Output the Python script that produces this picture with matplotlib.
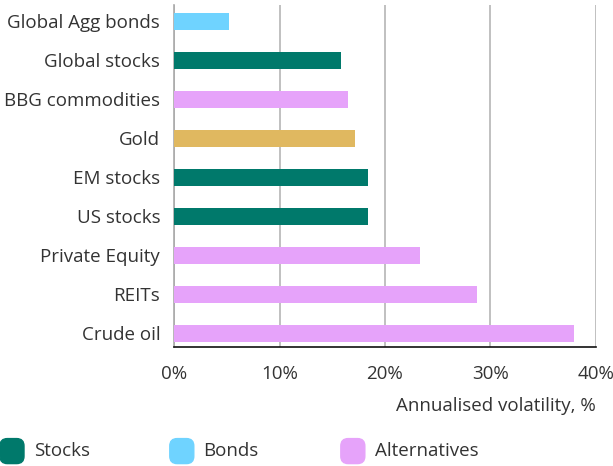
import matplotlib.pyplot as plt
from matplotlib.patches import FancyBboxPatch

plt.rcParams['font.family'] = ['Open Sans', 'DejaVu Sans']

# Data
assets = ['Global Agg bonds', 'Global stocks', 'BBG commodities', 'Gold', 'EM stocks',
          'US stocks', 'Private Equity', 'REITs', 'Crude oil']
volatility = [5.2, 15.8, 16.5, 17.2, 18.4, 18.4, 23.3, 28.7, 37.9]
groups = ['Bonds', 'Stocks', 'Alternatives', 'Gold', 'Stocks',
          'Stocks', 'Alternatives', 'Alternatives', 'Alternatives']

colors = {'Stocks': '#00796b', 'Bonds': '#6fd3ff', 'Alternatives': '#e6a3fa', 'Gold': '#e0b860'}
text_col = '#333333'
fs = 13.5

fig = plt.figure(figsize=(6.13, 4.66), dpi=100)
ax = fig.add_axes([0.284, 0.255, 0.688, 0.734])

y = list(range(len(assets)))
ax.barh(y, volatility, height=0.44, color=[colors[g] for g in groups], zorder=3)

ax.set_xlim(0, 40)
ax.set_ylim(8.36, -0.41)
ax.set_yticks(y)
ax.set_yticklabels(assets, fontsize=fs, color=text_col)
ax.set_xticks([0, 10, 20, 30, 40])
ax.set_xticklabels(['0%', '10%', '20%', '30%', '40%'], fontsize=fs, color=text_col)
ax.tick_params(axis='y', length=0, pad=10)
ax.tick_params(axis='x', length=0, pad=13)
ax.grid(axis='x', color='#b5b5b5', linewidth=1.2, zorder=0)
for s in ['top', 'right']:
    ax.spines[s].set_visible(False)
ax.spines['left'].set_color('#aaaaaa')
ax.spines['left'].set_linewidth(1.2)
ax.spines['bottom'].set_color('#111111')
ax.spines['bottom'].set_linewidth(1.2)

fig.text(0.972, 0.129, 'Annualised volatility, %', ha='right', va='center',
         fontsize=fs, color=text_col)

# Legend
legend_items = [('Stocks', 0.0), ('Bonds', 0.277), ('Alternatives', 0.556)]
w, h = 24 / 613, 25 / 466
for name, x0 in legend_items:
    patch = FancyBboxPatch((x0, 0.032 - h / 2), w, h, boxstyle='round,pad=0,rounding_size=0.012',
                           transform=fig.transFigure, color=colors[name],
                           mutation_aspect=613 / 466)
    fig.patches.append(patch)
    fig.text(x0 + w + 0.016, 0.032, name, ha='left', va='center',
             fontsize=fs, color=text_col)

fig.savefig('out.png', dpi=100)
